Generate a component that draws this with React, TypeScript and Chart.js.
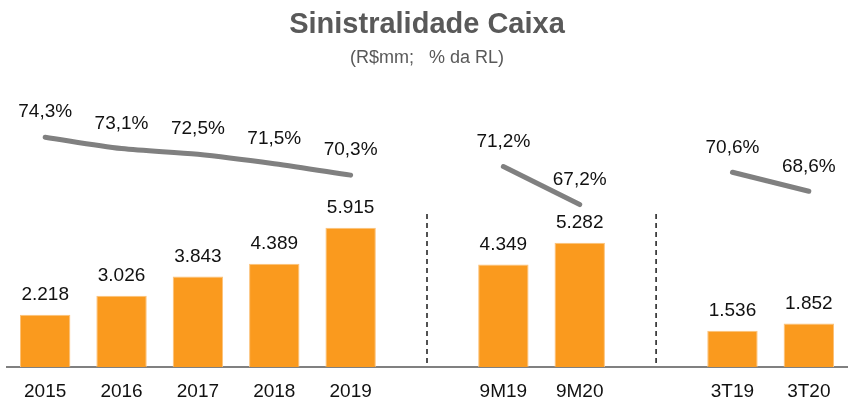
import React, { useEffect, useRef } from "react";
import { Chart, registerables } from "chart.js";

Chart.register(...registerables);

const categories = ["2015", "2016", "2017", "2018", "2019", "", "9M19", "9M20", "", "3T19", "3T20"];
const claimsValues: (number | null)[] = [2218, 3026, 3843, 4389, 5915, null, 4349, 5282, null, 1536, 1852];
const ratioValues: (number | null)[] = [74.3, 73.1, 72.5, 71.5, 70.3, null, 71.2, 67.2, null, 70.6, 68.6];
const separatorIndexes = [5, 8];
const separatorTopValue = 6500;

const TITLE = "Sinistralidade Caixa";
const SUBTITLE = "(R$mm;   % da RL)";
const FONT = "'Liberation Sans', Arial, sans-serif";

const fmtInt = (v: number) => v.toLocaleString("pt-BR");
const fmtPct = (v: number) => v.toFixed(1).replace(".", ",") + "%";

const labelsPlugin = {
  id: "customLabels",
  afterDatasetsDraw(chart: any) {
    const ctx = chart.ctx;
    const { chartArea } = chart;
    const xScale = chart.scales.x;
    const yBar = chart.scales.yBar;
    ctx.save();
    ctx.strokeStyle = "#1a1a1a";
    ctx.lineWidth = 1.5;
    ctx.setLineDash([5, 4]);
    separatorIndexes.forEach((i) => {
      const x = xScale.getPixelForValue(i);
      ctx.beginPath();
      ctx.moveTo(x, yBar.getPixelForValue(separatorTopValue));
      ctx.lineTo(x, chartArea.bottom);
      ctx.stroke();
    });
    ctx.restore();

    ctx.save();
    ctx.fillStyle = "#111111";
    ctx.font = `19px ${FONT}`;
    ctx.textAlign = "center";
    ctx.textBaseline = "middle";
    const barMeta = chart.getDatasetMeta(0);
    barMeta.data.forEach((el: any, i: number) => {
      const v = claimsValues[i];
      if (v == null) return;
      ctx.fillText(fmtInt(v), el.x, el.y - 20);
    });
    const lineMeta = chart.getDatasetMeta(1);
    lineMeta.data.forEach((el: any, i: number) => {
      const v = ratioValues[i];
      if (v == null) return;
      ctx.fillText(fmtPct(v), el.x, el.y - 25);
    });
    ctx.restore();
  },
};

export default function App() {
  const canvasRef = useRef<HTMLCanvasElement | null>(null);

  useEffect(() => {
    if (!canvasRef.current) return;
    const chart = new Chart(canvasRef.current, {
      type: "bar",
      data: {
        labels: categories,
        datasets: [
          {
            type: "bar",
            label: "Sinistros",
            data: claimsValues,
            yAxisID: "yBar",
            backgroundColor: "#FA9A1E",
            borderColor: "#FCC27A",
            borderWidth: 1,
            barPercentage: 0.66,
            categoryPercentage: 1,
            order: 2,
          },
          {
            type: "line",
            label: "% da RL",
            data: ratioValues,
            yAxisID: "yLine",
            borderColor: "#808080",
            borderWidth: 5,
            borderCapStyle: "round",
            borderJoinStyle: "round",
            pointRadius: 0,
            pointHoverRadius: 0,
            tension: 0.3,
            spanGaps: false,
            fill: false,
            order: 1,
          },
        ],
      } as any,
      options: {
        animation: false,
        responsive: true,
        maintainAspectRatio: false,
        layout: { padding: { left: 7, right: 1, top: 0, bottom: 0 } },
        plugins: {
          legend: { display: false },
          tooltip: { enabled: false },
          title: {
            display: true,
            text: TITLE,
            color: "#595959",
            font: { family: FONT, size: 29, weight: "bold" },
            padding: { top: 8, bottom: 0 },
          },
          subtitle: {
            display: true,
            text: SUBTITLE,
            color: "#595959",
            font: { family: FONT, size: 18 },
            padding: { top: 4, bottom: 10 },
          },
        },
        scales: {
          x: {
            grid: { display: false, drawTicks: false },
            border: { display: true, color: "#808080", width: 2 },
            ticks: {
              color: "#111111",
              font: { family: FONT, size: 19 },
              padding: 13,
              autoSkip: false,
              maxRotation: 0,
            },
            afterFit: (scale: any) => {
              scale.height = 33;
            },
          },
          yBar: {
            display: false,
            position: "left",
            min: 0,
            max: 12260,
          },
          yLine: {
            display: false,
            position: "right",
            min: 50.09,
            max: 80.49,
          },
        },
      } as any,
      plugins: [labelsPlugin],
    });
    return () => chart.destroy();
  }, []);

  return (
    <div style={{ position: "absolute", left: 0, top: 0, width: 848, height: 400 }}>
      <canvas ref={canvasRef} />
    </div>
  );
}
